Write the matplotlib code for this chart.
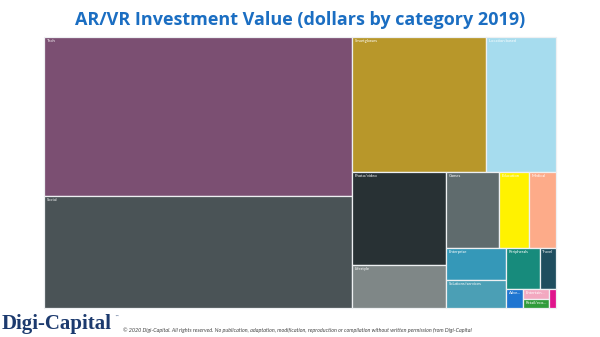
"""
AR/VR investment value by category (2019) as a treemap.
"""

import matplotlib.pyplot as plt
from matplotlib.patches import Rectangle

# Relative investment value per category, largest first
categories = [
    "Tech", "Social", "Smartglasses", "Location based", "Photo/video",
    "Lifestyle", "Games", "Education", "Medical", "Enterprise",
    "Solutions/services", "Peripherals", "Travel", "Advertising/marketing",
    "Entertainment", "Retail/ecommerce", "Sports",
]
values = [
    48970, 34500, 18090, 9450, 8650,
    4050, 4000, 2280, 2050, 1920,
    1680, 1390, 660, 325,
    250, 240, 130,
]
colors = [
    "#7b4f72", "#4a5356", "#b8972a", "#a6dcee", "#283134",
    "#7f8787", "#5f6b6d", "#fff200", "#fdab89", "#3598b8",
    "#4b9fb5", "#178b7c", "#1f4e5f", "#1f75d1",
    "#f3a8c0", "#2f9b3a", "#e0148c",
]
# how many items go in each strip of the layout
strip_counts = [2, 2, 2, 3, 2, 2, 1, 2, 1]


def strip_layout(vals, x, y, w, h, counts):
    """Lay values out in strips along the shorter side of what is left."""
    scale = w * h / sum(vals)
    areas = [v * scale for v in vals]
    rects = []
    i = 0
    for n in counts:
        row = areas[i:i + n]
        s = sum(row)
        if w >= h:
            cw = s / h
            yy = y
            for a in row:
                rects.append((x, yy, cw, a / cw))
                yy += a / cw
            x += cw
            w -= cw
        else:
            rh = s / w
            xx = x
            for a in row:
                rects.append((xx, y, a / rh, rh))
                xx += a / rh
            y += rh
            h -= rh
        i += n
    return rects


fig = plt.figure(figsize=(6, 3.37), dpi=100)
ax = fig.add_axes([0, 0, 1, 1])
ax.set_xlim(0, 600)
ax.set_ylim(337, 0)
ax.axis("off")

rects = strip_layout(values, 44, 37, 512, 271, strip_counts)
renderer = fig.canvas.get_renderer()

for (x, y, w, h), name, col in zip(rects, categories, colors):
    ax.add_patch(Rectangle((x, y), w, h, facecolor=col,
                           edgecolor="#eef0f2", linewidth=0.9))
    if h < 8:
        continue
    label = name
    t = ax.text(x + 2.5, y + 3.8, label, fontsize=3, color="white",
                family="Lato", ha="left", va="center")
    # shorten label until it fits in the cell
    while t.get_window_extent(renderer).width > w - 4 and len(label) > 1:
        label = label[:-1]
        t.set_text(label.rstrip("/ ") + "...")
    if len(label) < 2:
        t.remove()

ax.text(300, 20, "AR/VR Investment Value (dollars by category 2019)",
        fontsize=13, fontweight="bold", color="#1b6ec2", family="Open Sans",
        ha="center", va="center")

ax.text(2, 329, "Digi-Capital", fontsize=15, fontweight="bold",
        color="#1c3a6e", family="Liberation Serif", ha="left", va="baseline")
ax.text(114, 318, "\u2122", fontsize=3, color="#1c3a6e", ha="left")

ax.text(123, 330,
        "\u00a9 2020 Digi-Capital. All rights reserved. No publication, adaptation, "
        "modification, reproduction or compilation without written permission "
        "from Digi-Capital",
        fontsize=3.9, style="italic", color="#444444", family="Lato",
        ha="left", va="center")

fig.savefig("out.png", dpi=100)
